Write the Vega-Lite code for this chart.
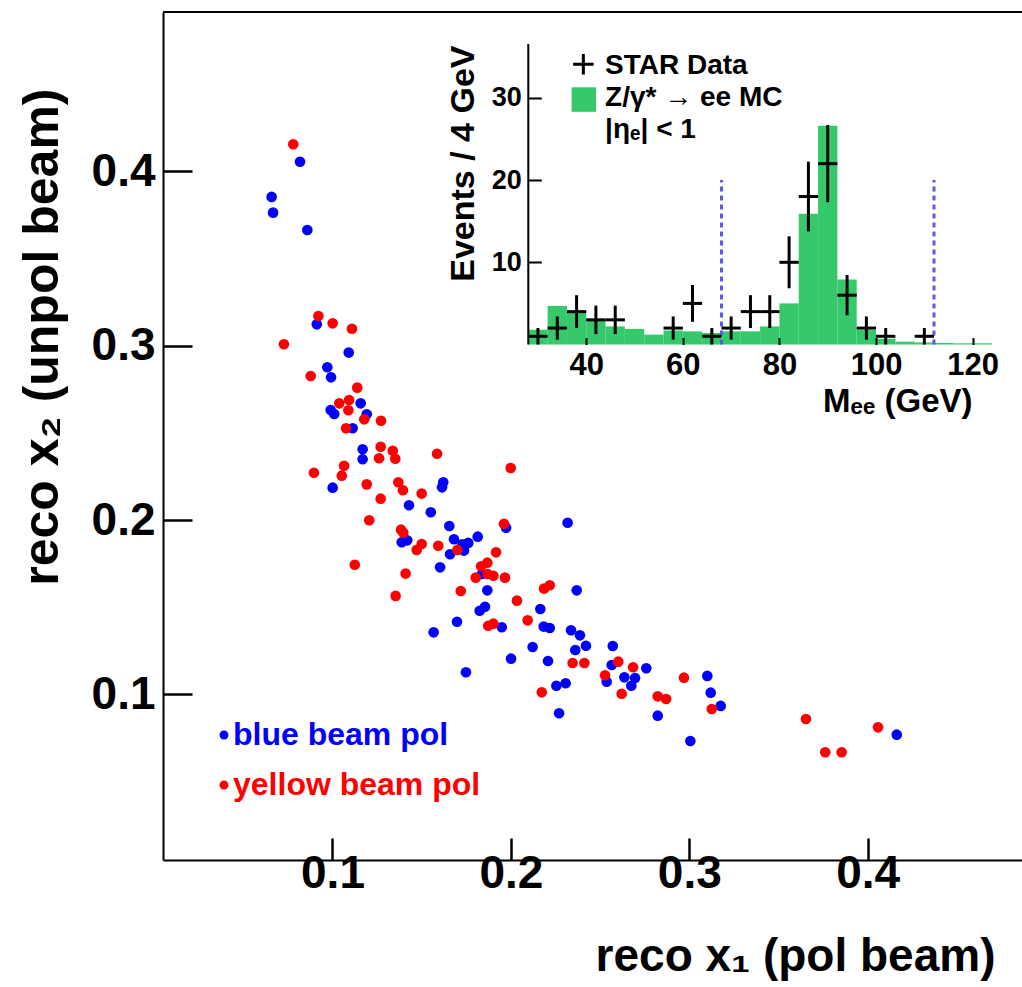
{
  "$schema": "https://vega.github.io/schema/vega-lite/v6.json",
  "width": 859,
  "height": 848,
  "autosize": "none",
  "padding": {"left": 163, "top": 12, "right": 0, "bottom": 127},
  "background": "white",
  "config": {
    "view": {"stroke": null},
    "font": "Liberation Sans",
    "axis": {"grid": false, "domainColor": "black", "tickColor": "black", "labelColor": "black", "titleColor": "black", "labelFont": "Liberation Sans", "titleFont": "Liberation Sans", "labelFontWeight": "bold", "titleFontWeight": "bold", "labelOverlap": false, "labelFlush": false}
  },
  "datasets": {
    "scatter": [
      {"x1": 0.0818, "x2": 0.4056, "beam": "blue beam pol"},
      {"x1": 0.0659, "x2": 0.3854, "beam": "blue beam pol"},
      {"x1": 0.0667, "x2": 0.3764, "beam": "blue beam pol"},
      {"x1": 0.0859, "x2": 0.3664, "beam": "blue beam pol"},
      {"x1": 0.0912, "x2": 0.3123, "beam": "blue beam pol"},
      {"x1": 0.1091, "x2": 0.2961, "beam": "blue beam pol"},
      {"x1": 0.0971, "x2": 0.2877, "beam": "blue beam pol"},
      {"x1": 0.0992, "x2": 0.2819, "beam": "blue beam pol"},
      {"x1": 0.1158, "x2": 0.2670, "beam": "blue beam pol"},
      {"x1": 0.0990, "x2": 0.2632, "beam": "blue beam pol"},
      {"x1": 0.1010, "x2": 0.2609, "beam": "blue beam pol"},
      {"x1": 0.1192, "x2": 0.2607, "beam": "blue beam pol"},
      {"x1": 0.1113, "x2": 0.2527, "beam": "blue beam pol"},
      {"x1": 0.1169, "x2": 0.2406, "beam": "blue beam pol"},
      {"x1": 0.1169, "x2": 0.2349, "beam": "blue beam pol"},
      {"x1": 0.1001, "x2": 0.2186, "beam": "blue beam pol"},
      {"x1": 0.1621, "x2": 0.2217, "beam": "blue beam pol"},
      {"x1": 0.1614, "x2": 0.2188, "beam": "blue beam pol"},
      {"x1": 0.1429, "x2": 0.2085, "beam": "blue beam pol"},
      {"x1": 0.1551, "x2": 0.2045, "beam": "blue beam pol"},
      {"x1": 0.1655, "x2": 0.1966, "beam": "blue beam pol"},
      {"x1": 0.1388, "x2": 0.1873, "beam": "blue beam pol"},
      {"x1": 0.1419, "x2": 0.1884, "beam": "blue beam pol"},
      {"x1": 0.1681, "x2": 0.1890, "beam": "blue beam pol"},
      {"x1": 0.1728, "x2": 0.1861, "beam": "blue beam pol"},
      {"x1": 0.1761, "x2": 0.1869, "beam": "blue beam pol"},
      {"x1": 0.1814, "x2": 0.1905, "beam": "blue beam pol"},
      {"x1": 0.1659, "x2": 0.1804, "beam": "blue beam pol"},
      {"x1": 0.1737, "x2": 0.1825, "beam": "blue beam pol"},
      {"x1": 0.1973, "x2": 0.1956, "beam": "blue beam pol"},
      {"x1": 0.2318, "x2": 0.1985, "beam": "blue beam pol"},
      {"x1": 0.1603, "x2": 0.1729, "beam": "blue beam pol"},
      {"x1": 0.1838, "x2": 0.1691, "beam": "blue beam pol"},
      {"x1": 0.1868, "x2": 0.1597, "beam": "blue beam pol"},
      {"x1": 0.2369, "x2": 0.1597, "beam": "blue beam pol"},
      {"x1": 0.2165, "x2": 0.1490, "beam": "blue beam pol"},
      {"x1": 0.1825, "x2": 0.1480, "beam": "blue beam pol"},
      {"x1": 0.1855, "x2": 0.1503, "beam": "blue beam pol"},
      {"x1": 0.1698, "x2": 0.1417, "beam": "blue beam pol"},
      {"x1": 0.1567, "x2": 0.1356, "beam": "blue beam pol"},
      {"x1": 0.1949, "x2": 0.1385, "beam": "blue beam pol"},
      {"x1": 0.2184, "x2": 0.1389, "beam": "blue beam pol"},
      {"x1": 0.2218, "x2": 0.1381, "beam": "blue beam pol"},
      {"x1": 0.2337, "x2": 0.1368, "beam": "blue beam pol"},
      {"x1": 0.2387, "x2": 0.1339, "beam": "blue beam pol"},
      {"x1": 0.2421, "x2": 0.1279, "beam": "blue beam pol"},
      {"x1": 0.2361, "x2": 0.1255, "beam": "blue beam pol"},
      {"x1": 0.2122, "x2": 0.1272, "beam": "blue beam pol"},
      {"x1": 0.2001, "x2": 0.1205, "beam": "blue beam pol"},
      {"x1": 0.2208, "x2": 0.1192, "beam": "blue beam pol"},
      {"x1": 0.1748, "x2": 0.1127, "beam": "blue beam pol"},
      {"x1": 0.2255, "x2": 0.1050, "beam": "blue beam pol"},
      {"x1": 0.2307, "x2": 0.1064, "beam": "blue beam pol"},
      {"x1": 0.2270, "x2": 0.0892, "beam": "blue beam pol"},
      {"x1": 0.2571, "x2": 0.1278, "beam": "blue beam pol"},
      {"x1": 0.2565, "x2": 0.1169, "beam": "blue beam pol"},
      {"x1": 0.2759, "x2": 0.1150, "beam": "blue beam pol"},
      {"x1": 0.2537, "x2": 0.1073, "beam": "blue beam pol"},
      {"x1": 0.2636, "x2": 0.1098, "beam": "blue beam pol"},
      {"x1": 0.2696, "x2": 0.1094, "beam": "blue beam pol"},
      {"x1": 0.2675, "x2": 0.1050, "beam": "blue beam pol"},
      {"x1": 0.2823, "x2": 0.0878, "beam": "blue beam pol"},
      {"x1": 0.3101, "x2": 0.1106, "beam": "blue beam pol"},
      {"x1": 0.3120, "x2": 0.1010, "beam": "blue beam pol"},
      {"x1": 0.3176, "x2": 0.0934, "beam": "blue beam pol"},
      {"x1": 0.3006, "x2": 0.0733, "beam": "blue beam pol"},
      {"x1": 0.4163, "x2": 0.0769, "beam": "blue beam pol"},
      {"x1": 0.0780, "x2": 0.4156, "beam": "yellow beam pol"},
      {"x1": 0.0921, "x2": 0.3171, "beam": "yellow beam pol"},
      {"x1": 0.1001, "x2": 0.3129, "beam": "yellow beam pol"},
      {"x1": 0.1109, "x2": 0.3098, "beam": "yellow beam pol"},
      {"x1": 0.0728, "x2": 0.3009, "beam": "yellow beam pol"},
      {"x1": 0.0878, "x2": 0.2827, "beam": "yellow beam pol"},
      {"x1": 0.1139, "x2": 0.2760, "beam": "yellow beam pol"},
      {"x1": 0.1038, "x2": 0.2670, "beam": "yellow beam pol"},
      {"x1": 0.1093, "x2": 0.2689, "beam": "yellow beam pol"},
      {"x1": 0.1089, "x2": 0.2630, "beam": "yellow beam pol"},
      {"x1": 0.1178, "x2": 0.2578, "beam": "yellow beam pol"},
      {"x1": 0.1272, "x2": 0.2570, "beam": "yellow beam pol"},
      {"x1": 0.1076, "x2": 0.2527, "beam": "yellow beam pol"},
      {"x1": 0.1270, "x2": 0.2421, "beam": "yellow beam pol"},
      {"x1": 0.1338, "x2": 0.2398, "beam": "yellow beam pol"},
      {"x1": 0.1261, "x2": 0.2355, "beam": "yellow beam pol"},
      {"x1": 0.1352, "x2": 0.2352, "beam": "yellow beam pol"},
      {"x1": 0.1065, "x2": 0.2312, "beam": "yellow beam pol"},
      {"x1": 0.0896, "x2": 0.2272, "beam": "yellow beam pol"},
      {"x1": 0.1052, "x2": 0.2255, "beam": "yellow beam pol"},
      {"x1": 0.1192, "x2": 0.2205, "beam": "yellow beam pol"},
      {"x1": 0.1369, "x2": 0.2217, "beam": "yellow beam pol"},
      {"x1": 0.1395, "x2": 0.2171, "beam": "yellow beam pol"},
      {"x1": 0.1500, "x2": 0.2152, "beam": "yellow beam pol"},
      {"x1": 0.1586, "x2": 0.2381, "beam": "yellow beam pol"},
      {"x1": 0.1999, "x2": 0.2299, "beam": "yellow beam pol"},
      {"x1": 0.1270, "x2": 0.2123, "beam": "yellow beam pol"},
      {"x1": 0.1206, "x2": 0.1999, "beam": "yellow beam pol"},
      {"x1": 0.1384, "x2": 0.1945, "beam": "yellow beam pol"},
      {"x1": 0.1397, "x2": 0.1928, "beam": "yellow beam pol"},
      {"x1": 0.1593, "x2": 0.1853, "beam": "yellow beam pol"},
      {"x1": 0.1500, "x2": 0.1863, "beam": "yellow beam pol"},
      {"x1": 0.1472, "x2": 0.1829, "beam": "yellow beam pol"},
      {"x1": 0.1700, "x2": 0.1829, "beam": "yellow beam pol"},
      {"x1": 0.1961, "x2": 0.1979, "beam": "yellow beam pol"},
      {"x1": 0.1125, "x2": 0.1744, "beam": "yellow beam pol"},
      {"x1": 0.1410, "x2": 0.1693, "beam": "yellow beam pol"},
      {"x1": 0.1917, "x2": 0.1815, "beam": "yellow beam pol"},
      {"x1": 0.1833, "x2": 0.1735, "beam": "yellow beam pol"},
      {"x1": 0.1868, "x2": 0.1756, "beam": "yellow beam pol"},
      {"x1": 0.1803, "x2": 0.1670, "beam": "yellow beam pol"},
      {"x1": 0.1870, "x2": 0.1691, "beam": "yellow beam pol"},
      {"x1": 0.1902, "x2": 0.1681, "beam": "yellow beam pol"},
      {"x1": 0.1967, "x2": 0.1670, "beam": "yellow beam pol"},
      {"x1": 0.1354, "x2": 0.1565, "beam": "yellow beam pol"},
      {"x1": 0.1719, "x2": 0.1593, "beam": "yellow beam pol"},
      {"x1": 0.2186, "x2": 0.1607, "beam": "yellow beam pol"},
      {"x1": 0.2218, "x2": 0.1626, "beam": "yellow beam pol"},
      {"x1": 0.2034, "x2": 0.1538, "beam": "yellow beam pol"},
      {"x1": 0.2094, "x2": 0.1425, "beam": "yellow beam pol"},
      {"x1": 0.1873, "x2": 0.1394, "beam": "yellow beam pol"},
      {"x1": 0.1902, "x2": 0.1406, "beam": "yellow beam pol"},
      {"x1": 0.2346, "x2": 0.1180, "beam": "yellow beam pol"},
      {"x1": 0.2412, "x2": 0.1180, "beam": "yellow beam pol"},
      {"x1": 0.2173, "x2": 0.1012, "beam": "yellow beam pol"},
      {"x1": 0.2602, "x2": 0.1188, "beam": "yellow beam pol"},
      {"x1": 0.2685, "x2": 0.1156, "beam": "yellow beam pol"},
      {"x1": 0.2528, "x2": 0.1110, "beam": "yellow beam pol"},
      {"x1": 0.2621, "x2": 0.1004, "beam": "yellow beam pol"},
      {"x1": 0.2823, "x2": 0.0989, "beam": "yellow beam pol"},
      {"x1": 0.2870, "x2": 0.0974, "beam": "yellow beam pol"},
      {"x1": 0.2970, "x2": 0.1096, "beam": "yellow beam pol"},
      {"x1": 0.3126, "x2": 0.0916, "beam": "yellow beam pol"},
      {"x1": 0.3654, "x2": 0.0859, "beam": "yellow beam pol"},
      {"x1": 0.3762, "x2": 0.0668, "beam": "yellow beam pol"},
      {"x1": 0.3854, "x2": 0.0668, "beam": "yellow beam pol"},
      {"x1": 0.4058, "x2": 0.0811, "beam": "yellow beam pol"}
    ],
    "mc": [
      {"lo": 28, "hi": 32, "mc": 1.8},
      {"lo": 32, "hi": 36, "mc": 4.7},
      {"lo": 36, "hi": 40, "mc": 4.0},
      {"lo": 40, "hi": 44, "mc": 3.0},
      {"lo": 44, "hi": 48, "mc": 2.2},
      {"lo": 48, "hi": 52, "mc": 1.9},
      {"lo": 52, "hi": 56, "mc": 1.2},
      {"lo": 56, "hi": 60, "mc": 1.7},
      {"lo": 60, "hi": 64, "mc": 1.6},
      {"lo": 64, "hi": 68, "mc": 1.4},
      {"lo": 68, "hi": 72, "mc": 1.6},
      {"lo": 72, "hi": 76, "mc": 1.6},
      {"lo": 76, "hi": 80, "mc": 2.2},
      {"lo": 80, "hi": 84, "mc": 5.0},
      {"lo": 84, "hi": 88, "mc": 15.9},
      {"lo": 88, "hi": 92, "mc": 26.6},
      {"lo": 92, "hi": 96, "mc": 7.9},
      {"lo": 96, "hi": 100, "mc": 1.8},
      {"lo": 100, "hi": 104, "mc": 0.7},
      {"lo": 104, "hi": 108, "mc": 0.35},
      {"lo": 108, "hi": 112, "mc": 0.25},
      {"lo": 112, "hi": 116, "mc": 0.2},
      {"lo": 116, "hi": 120, "mc": 0.15},
      {"lo": 120, "hi": 124, "mc": 0.15}
    ],
    "star": [
      {"m": 30, "lo": 28, "hi": 32, "n": 1, "nlo": 0, "nhi": 2},
      {"m": 34, "lo": 32, "hi": 36, "n": 2, "nlo": 0.586, "nhi": 3.414},
      {"m": 38, "lo": 36, "hi": 40, "n": 4, "nlo": 2, "nhi": 6},
      {"m": 42, "lo": 40, "hi": 44, "n": 3, "nlo": 1.268, "nhi": 4.732},
      {"m": 46, "lo": 44, "hi": 48, "n": 3, "nlo": 1.268, "nhi": 4.732},
      {"m": 58, "lo": 56, "hi": 60, "n": 2, "nlo": 0.586, "nhi": 3.414},
      {"m": 62, "lo": 60, "hi": 64, "n": 5, "nlo": 2.764, "nhi": 7.236},
      {"m": 66, "lo": 64, "hi": 68, "n": 1, "nlo": 0, "nhi": 2},
      {"m": 70, "lo": 68, "hi": 72, "n": 2, "nlo": 0.586, "nhi": 3.414},
      {"m": 74, "lo": 72, "hi": 76, "n": 4, "nlo": 2, "nhi": 6},
      {"m": 78, "lo": 76, "hi": 80, "n": 4, "nlo": 2, "nhi": 6},
      {"m": 82, "lo": 80, "hi": 84, "n": 10, "nlo": 6.838, "nhi": 13.162},
      {"m": 86, "lo": 84, "hi": 88, "n": 18, "nlo": 13.757, "nhi": 22.243},
      {"m": 90, "lo": 88, "hi": 92, "n": 22, "nlo": 17.31, "nhi": 26.69},
      {"m": 94, "lo": 92, "hi": 96, "n": 6, "nlo": 3.551, "nhi": 8.449},
      {"m": 98, "lo": 96, "hi": 100, "n": 2, "nlo": 0.586, "nhi": 3.414},
      {"m": 102, "lo": 100, "hi": 104, "n": 1, "nlo": 0, "nhi": 2},
      {"m": 110, "lo": 108, "hi": 112, "n": 1, "nlo": 0, "nhi": 2}
    ],
    "cuts": [{"m": 68}, {"m": 112}],
    "mainTicks": [{"v": 0.1}, {"v": 0.2}, {"v": 0.3}, {"v": 0.4}],
    "insetTicks": [{"mx": 40, "ny": 10}, {"mx": 60, "ny": 20}, {"mx": 80, "ny": 30}, {"mx": 100, "ny": 30}, {"mx": 120, "ny": 30}],
    "one": [{}]
  },
  "layer": [
    {
      "layer": [
        {
          "data": {"name": "scatter"},
          "mark": {"type": "point", "filled": true, "size": 113, "opacity": 1},
          "encoding": {
            "x": {
              "field": "x1", "type": "quantitative",
              "scale": {"domain": [0.005, 0.4865], "nice": false, "zero": false},
              "axis": {
                "orient": "bottom", "values": [0.1, 0.2, 0.3, 0.4], "format": ".1f",
                "domainWidth": 2, "ticks": false, "labelPadding": -9,
                "labelFontSize": 46,
                "title": "reco x₁ (pol beam)", "titleFontSize": 46,
                "titleAlign": "right", "titleBaseline": "alphabetic", "titleAnchor": "end",
                "titleX": 832, "titleY": 110
              }
            },
            "y": {
              "field": "x2", "type": "quantitative",
              "scale": {"domain": [0.005, 0.4915], "nice": false, "zero": false},
              "axis": {
                "orient": "left", "values": [0.1, 0.2, 0.3, 0.4], "format": ".1f",
                "domainWidth": 2, "ticks": false, "labelPadding": 8,
                "labelFontSize": 46,
                "title": "reco x₂ (unpol beam)", "titleFontSize": 50,
                "titleAngle": 270, "titleAlign": "right", "titleBaseline": "alphabetic", "titleAnchor": "end",
                "titleX": -106, "titleY": 76
              }
            },
            "color": {
              "field": "beam", "type": "nominal",
              "scale": {"domain": ["blue beam pol", "yellow beam pol"], "range": ["#0000ff", "#ff0000"]},
              "legend": {
                "orient": "none", "legendX": 45, "legendY": 707, "title": null,
                "symbolType": "circle", "symbolSize": 80, "symbolStrokeWidth": 0,
                "labelFont": "Liberation Sans", "labelFontWeight": "bold", "labelFontSize": 32,
                "labelOffset": -7, "rowPadding": 18, "padding": 0, "labelLimit": 0,
                "labelColor": {"expr": "datum.value === 'blue beam pol' ? '#0000ff' : '#ff0000'"}
              }
            }
          }
        },
        {
          "data": {"name": "mainTicks"},
          "mark": {"type": "point", "opacity": 0},
          "encoding": {
            "x": {
              "field": "v", "type": "quantitative",
              "scale": {"domain": [0.005, 0.4865], "nice": false, "zero": false},
              "axis": {"orient": "bottom", "offset": -22, "values": [0.1, 0.2, 0.3, 0.4], "domain": false, "labels": false, "ticks": true, "tickSize": 22, "tickWidth": 2.5, "tickColor": "black", "title": null, "zindex": 1}
            },
            "y": {
              "field": "v", "type": "quantitative",
              "scale": {"domain": [0.005, 0.4915], "nice": false, "zero": false},
              "axis": {"orient": "left", "offset": -29, "values": [0.1, 0.2, 0.3, 0.4], "domain": false, "labels": false, "ticks": true, "tickSize": 29, "tickWidth": 2.5, "tickColor": "black", "title": null, "zindex": 1}
            }
          }
        },
        {
          "data": {"name": "one"},
          "mark": {"type": "rule", "color": "black", "strokeWidth": 2},
          "encoding": {
            "y": {"datum": 0.4915, "type": "quantitative", "scale": {"domain": [0.005, 0.4915], "nice": false, "zero": false}, "axis": null}
          }
        }
      ],
      "resolve": {"axis": {"x": "independent", "y": "independent"}}
    },
    {
      "layer": [
        {
          "data": {"name": "mc"},
          "mark": {"type": "rect", "color": "#35c96b"},
          "encoding": {
            "x": {
              "field": "lo", "type": "quantitative",
              "scale": {"domain": [-47.63, 130.22], "nice": false, "zero": false},
              "axis": {
                "orient": "bottom", "offset": -515.5, "values": [40, 60, 80, 100, 120],
                "domain": false, "ticks": false, "labelPadding": 6,
                "labelFontSize": 31,
                "title": "Mₑₑ (GeV)", "titleFontSize": 33,
                "titleAlign": "right", "titleBaseline": "alphabetic", "titleAnchor": "end",
                "titleX": 809, "titleY": 67
              }
            },
            "x2": {"field": "hi"},
            "y": {
              "field": "mc", "type": "quantitative",
              "scale": {"domain": [-62.71, 40.45], "nice": false, "zero": false},
              "axis": {
                "orient": "left", "offset": -365.3, "values": [10, 20, 30],
                "domain": false, "ticks": false, "labelPadding": 7,
                "labelFontSize": 27,
                "title": "Events / 4 GeV", "titleFontSize": 34,
                "titleAngle": 270, "titleAlign": "right", "titleBaseline": "alphabetic", "titleAnchor": "end",
                "titleX": -55, "titleY": 33
              }
            },
            "y2": {"datum": 0}
          }
        },
        {
          "data": {"name": "insetTicks"},
          "mark": {"type": "point", "opacity": 0},
          "encoding": {
            "x": {
              "field": "mx", "type": "quantitative",
              "scale": {"domain": [-47.63, 130.22], "nice": false, "zero": false},
              "axis": {"orient": "bottom", "offset": -522.5, "values": [40, 60, 80, 100, 120], "domain": false, "labels": false, "ticks": true, "tickSize": 7, "tickWidth": 2, "title": null, "zindex": 1}
            },
            "y": {
              "field": "ny", "type": "quantitative",
              "scale": {"domain": [-62.71, 40.45], "nice": false, "zero": false},
              "axis": {"orient": "left", "offset": -378.3, "values": [10, 20, 30], "domain": false, "labels": false, "ticks": true, "tickSize": 13, "tickWidth": 2, "title": null, "zindex": 1}
            }
          }
        },
        {
          "data": {"name": "cuts"},
          "mark": {"type": "rule", "color": "#5b5be8", "strokeWidth": 3, "strokeDash": [5, 4]},
          "encoding": {
            "x": {"field": "m", "type": "quantitative", "scale": {"domain": [-47.63, 130.22], "nice": false, "zero": false}, "axis": null},
            "y": {"datum": 0, "type": "quantitative", "scale": {"domain": [-62.71, 40.45], "nice": false, "zero": false}, "axis": null},
            "y2": {"datum": 20}
          }
        },
        {
          "data": {"name": "star"},
          "mark": {"type": "rule", "color": "black", "strokeWidth": 3},
          "encoding": {
            "x": {"field": "m", "type": "quantitative", "scale": {"domain": [-47.63, 130.22], "nice": false, "zero": false}, "axis": null},
            "y": {"field": "nlo", "type": "quantitative", "scale": {"domain": [-62.71, 40.45], "nice": false, "zero": false}, "axis": null},
            "y2": {"field": "nhi"}
          }
        },
        {
          "data": {"name": "star"},
          "mark": {"type": "rule", "color": "black", "strokeWidth": 3},
          "encoding": {
            "x": {"field": "lo", "type": "quantitative", "scale": {"domain": [-47.63, 130.22], "nice": false, "zero": false}, "axis": null},
            "x2": {"field": "hi"},
            "y": {"field": "n", "type": "quantitative", "scale": {"domain": [-62.71, 40.45], "nice": false, "zero": false}, "axis": null}
          }
        },
        {
          "data": {"name": "one"},
          "mark": {"type": "rule", "color": "black", "strokeWidth": 2},
          "encoding": {
            "x": {"datum": 28, "type": "quantitative", "scale": {"domain": [-47.63, 130.22], "nice": false, "zero": false}, "axis": null},
            "y": {"datum": 0, "type": "quantitative", "scale": {"domain": [-62.71, 40.45], "nice": false, "zero": false}, "axis": null},
            "y2": {"datum": 36.56}
          }
        },
        {
          "data": {"name": "one"},
          "mark": {"type": "point", "shape": "M-1,0L1,0M0,-1L0,1", "filled": false, "stroke": "black", "strokeWidth": 3, "size": 420, "opacity": 1},
          "encoding": {
            "x": {"datum": 39.4, "type": "quantitative", "scale": {"domain": [-47.63, 130.22], "nice": false, "zero": false}, "axis": null},
            "y": {"datum": 34.1, "type": "quantitative", "scale": {"domain": [-62.71, 40.45], "nice": false, "zero": false}, "axis": null}
          }
        },
        {
          "data": {"name": "one"},
          "mark": {"type": "point", "shape": "square", "filled": true, "color": "#35c96b", "size": 600, "opacity": 1},
          "encoding": {
            "x": {"datum": 39.5, "type": "quantitative", "scale": {"domain": [-47.63, 130.22], "nice": false, "zero": false}, "axis": null},
            "y": {"datum": 29.8, "type": "quantitative", "scale": {"domain": [-62.71, 40.45], "nice": false, "zero": false}, "axis": null}
          }
        },
        {
          "data": {"name": "one"},
          "mark": {"type": "text", "align": "left", "baseline": "alphabetic", "font": "Liberation Sans", "fontWeight": "bold", "fontSize": 28, "color": "black"},
          "encoding": {
            "x": {"datum": 43.9, "type": "quantitative", "scale": {"domain": [-47.63, 130.22], "nice": false, "zero": false}, "axis": null},
            "y": {"datum": 32.9, "type": "quantitative", "scale": {"domain": [-62.71, 40.45], "nice": false, "zero": false}, "axis": null},
            "text": {"value": "STAR Data"}
          }
        },
        {
          "data": {"name": "one"},
          "mark": {"type": "text", "align": "left", "baseline": "alphabetic", "font": "Liberation Sans", "fontWeight": "bold", "fontSize": 28, "color": "black"},
          "encoding": {
            "x": {"datum": 43.9, "type": "quantitative", "scale": {"domain": [-47.63, 130.22], "nice": false, "zero": false}, "axis": null},
            "y": {"datum": 29.0, "type": "quantitative", "scale": {"domain": [-62.71, 40.45], "nice": false, "zero": false}, "axis": null},
            "text": {"value": "Z/γ* → ee MC"}
          }
        },
        {
          "data": {"name": "one"},
          "mark": {"type": "text", "align": "left", "baseline": "alphabetic", "font": "Liberation Sans", "fontWeight": "bold", "fontSize": 28, "color": "black"},
          "encoding": {
            "x": {"datum": 43.9, "type": "quantitative", "scale": {"domain": [-47.63, 130.22], "nice": false, "zero": false}, "axis": null},
            "y": {"datum": 25.1, "type": "quantitative", "scale": {"domain": [-62.71, 40.45], "nice": false, "zero": false}, "axis": null},
            "text": {"value": "|ηₑ| < 1"}
          }
        }
      ],
      "resolve": {"axis": {"x": "independent", "y": "independent"}}
    }
  ],
  "resolve": {
    "scale": {"x": "independent", "y": "independent"},
    "axis": {"x": "independent", "y": "independent"}
  }
}
